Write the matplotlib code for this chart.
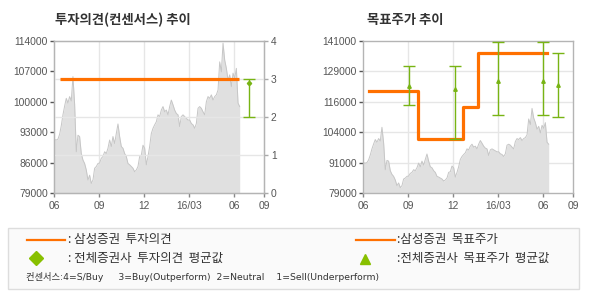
import numpy as np
import matplotlib
matplotlib.use("Agg")
import matplotlib.pyplot as plt
from matplotlib.lines import Line2D
from matplotlib.patches import Rectangle

KFONT = ['Noto Sans CJK KR', 'DejaVu Sans']
LFONT = ['DejaVu Sans', 'Noto Sans CJK KR']

# ---------------- data ----------------
price = [91300, 91200, 91400, 92500, 94500, 97000, 99000, 100800, 99700, 101200,
         100200, 105800, 99500, 88500, 92300, 92000, 88100, 86600, 85800, 84300,
         82000, 83100, 81200, 82000, 84700, 85100, 85800, 85900, 87000, 87400,
         88500, 88100, 89300, 91200, 89700, 92000, 90400, 92700, 94900, 92000,
         89700, 89300, 88100, 87400, 85800, 85500, 85100, 84700, 83900, 84300,
         85100, 87400, 87700, 90000, 89300, 85500, 87400, 89700, 92700, 93900,
         94700, 95400, 97000, 96600, 98100, 98900, 97700, 98100, 97000, 98900,
         100400, 99300, 98100, 97300, 97000, 94300, 96600, 97000, 96600, 96200,
         95800, 95800, 95000, 94700, 93900, 95000, 98500, 98900, 98500, 97700,
         97000, 100000, 101200, 100800, 101600, 100400, 101200, 101600, 102700, 109200,
         106900, 113500, 109600, 107700, 105000, 106200, 103500, 106600, 105400, 107700,
         99700, 98900]
price_start, price_end = 0.04, 12.38   # months after Jun 2015

# Samsung opinion (consensus scale)
opinion_x = [0.4, 12.3]
opinion_y = [3, 3]
# all-brokers opinion average
opinion_avg_x = [13.0]
opinion_avg = [2.89]
opinion_lo = [2.0]
opinion_hi = [3.0]

# Samsung target price (step)
target_x = [0.38, 3.65, 6.69, 7.64, 12.29]
target_y = [120500, 101000, 114000, 136000, 136000]
# all-brokers target price average
tp_avg_x = [3.07, 6.13, 9.0, 12.02, 13.02]
tp_avg = [122600, 121400, 124800, 124800, 122900]
tp_lo = [114800, 101000, 110700, 110700, 109900]
tp_hi = [131000, 131000, 140700, 140700, 136000]

xticks = [0, 3, 6, 9, 12, 14]
xticklabels = ['06', '09', '12', '16/03', '06', '09']
left_yticks = [79000, 86000, 93000, 100000, 107000, 114000]
right_yticklabels = ['79000', '91000', '104000', '116000', '129000', '141000']
cons_ticks = [0, 1, 2, 3, 4]

# ---------------- style ----------------
ORANGE = '#ff7000'
GREEN = '#78b414'
FILL = '#e0e0e0'
PLINE = '#c6c6c6'
GRID = '#e6e6e6'
SPINE = '#b4b4b4'
TXT = '#555555'

W, H = 590, 300
fig = plt.figure(figsize=(W / 100, H / 100), dpi=100)
fig.patch.set_facecolor('white')

def ax_rect(x0, x1, ytop, ybot):
    return [x0 / W, 1 - ybot / H, (x1 - x0) / W, (ybot - ytop) / H]

px = np.linspace(price_start, price_end, len(price))

def style_axes(ax):
    for s in ax.spines.values():
        s.set_color(SPINE)
        s.set_linewidth(1.0)
    ax.tick_params(axis='both', colors='#888888', labelcolor=TXT, labelsize=7.4,
                   length=3, width=1, pad=1.5)
    for lab in ax.get_xticklabels() + ax.get_yticklabels():
        lab.set_fontfamily('Liberation Sans')
    ax.set_xlim(0, 14)
    ax.set_xticks(xticks)
    ax.set_xticklabels(xticklabels, fontfamily='Liberation Sans')
    ax.tick_params(axis='x', pad=3)

# ---------- left chart ----------
ax1 = fig.add_axes(ax_rect(54, 264, 41, 193))
ax1.set_ylim(79000, 114000)
ax1.fill_between(px, 79000, price, color=FILL, lw=0, zorder=1)
ax1.plot(px, price, color=PLINE, lw=0.7, zorder=2)
ax1.set_yticks(left_yticks)
ax1.set_yticklabels([str(v) for v in left_yticks])
for xv in xticks[1:-1]:
    ax1.axvline(xv, color=GRID, lw=1, zorder=0.5)
style_axes(ax1)
ax1.tick_params(axis='y', colors='#555555')

ax1b = ax1.twinx()
ax1b.set_ylim(0, 4)
ax1b.set_yticks(cons_ticks)
ax1b.set_yticklabels([str(v) for v in cons_ticks], fontfamily='Liberation Sans')
for yv in cons_ticks[1:-1]:
    ax1b.axhline(yv, color=GRID, lw=1, zorder=0.5)
ax1b.plot(opinion_x, opinion_y, color=ORANGE, lw=2.3, solid_capstyle='butt', zorder=5)
ax1b.errorbar(opinion_avg_x, opinion_avg,
              yerr=[[a - l for a, l in zip(opinion_avg, opinion_lo)],
                    [h - a for a, h in zip(opinion_avg, opinion_hi)]],
              fmt='D', ms=2.2, color=GREEN, ecolor=GREEN, elinewidth=1, capsize=4, capthick=1, zorder=6)
for s in ax1b.spines.values():
    s.set_color(SPINE)
ax1b.tick_params(axis='y', colors='#aaaaaa', labelcolor=TXT, labelsize=7.4, length=3, width=1, pad=2)
ax1.set_zorder(ax1b.get_zorder() - 1)
ax1b.patch.set_visible(False)

# ---------- right chart ----------
ax2 = fig.add_axes(ax_rect(363, 573, 41, 193))
ax2.set_ylim(79000, 141000)
rticks = np.linspace(79000, 141000, 6)
for yv in rticks[1:-1]:
    ax2.axhline(yv, color=GRID, lw=1, zorder=0.5)
for xv in xticks[1:-1]:
    ax2.axvline(xv, color=GRID, lw=1, zorder=0.5)
ax2.fill_between(px, 79000, price, color=FILL, lw=0, zorder=1)
ax2.plot(px, price, color=PLINE, lw=0.7, zorder=2)
ax2.step(target_x, target_y, where='post', color=ORANGE, lw=2.3, zorder=5)
ax2.errorbar(tp_avg_x, tp_avg,
             yerr=[[a - l for a, l in zip(tp_avg, tp_lo)],
                   [h - a for a, h in zip(tp_avg, tp_hi)]],
             fmt='^', ms=2.5, color=GREEN, ecolor=GREEN, elinewidth=1, capsize=4, capthick=1, zorder=6)
ax2.set_yticks(rticks)
ax2.set_yticklabels(right_yticklabels)
style_axes(ax2)
ax2.tick_params(axis='y', colors='#555555')

# ---------- titles ----------
fig.text(55 / W, 1 - 20 / H, '투자의견(컨센서스) 추이', fontsize=9.6, fontweight='bold',
         color='#333333', family=KFONT, va='center', ha='left')
fig.text(367 / W, 1 - 20 / H, '목표주가 추이', fontsize=9.6, fontweight='bold',
         color='#333333', family=KFONT, va='center', ha='left')

# ---------- legend box ----------
fig.add_artist(Rectangle((8 / W, 1 - 289 / H), (579 - 8) / W, (289 - 228) / H,
                         transform=fig.transFigure, facecolor='#fafafa',
                         edgecolor='#dddddd', lw=1))
def fx(x): return x / W
def fy(y): return 1 - y / H
fig.add_artist(Line2D([fx(27), fx(65)], [fy(240), fy(240)], color=ORANGE, lw=1.6,
                      transform=fig.transFigure))
fig.add_artist(Line2D([fx(356), fx(395)], [fy(240), fy(240)], color=ORANGE, lw=1.6,
                      transform=fig.transFigure))
fig.add_artist(Line2D([fx(36)], [fy(258)], marker='D', ms=7, color='#88c000', lw=0,
                      transform=fig.transFigure))
fig.add_artist(Line2D([fx(365)], [fy(258.5)], marker='^', ms=7, color='#88c000', lw=0,
                      transform=fig.transFigure))
LT = dict(fontsize=9.0, color='#333333', family=KFONT, va='center', ha='left')
fig.text(fx(68), fy(240), ': 삼성증권  투자의견', **LT)
fig.text(fx(68), fy(258), ': 전체증권사  투자의견  평균값', **LT)
fig.text(fx(397), fy(240), ':삼성증권  목표주가', **LT)
fig.text(fx(397), fy(258), ':전체증권사  목표주가  평균값', **LT)
fig.text(fx(26), fy(277), '컨센서스:4=S/Buy     3=Buy(Outperform)  2=Neutral    1=Sell(Underperform)',
         fontsize=6.7, color='#333333', family=LFONT, va='center', ha='left')

fig.savefig('out.png', dpi=100, facecolor='white')
